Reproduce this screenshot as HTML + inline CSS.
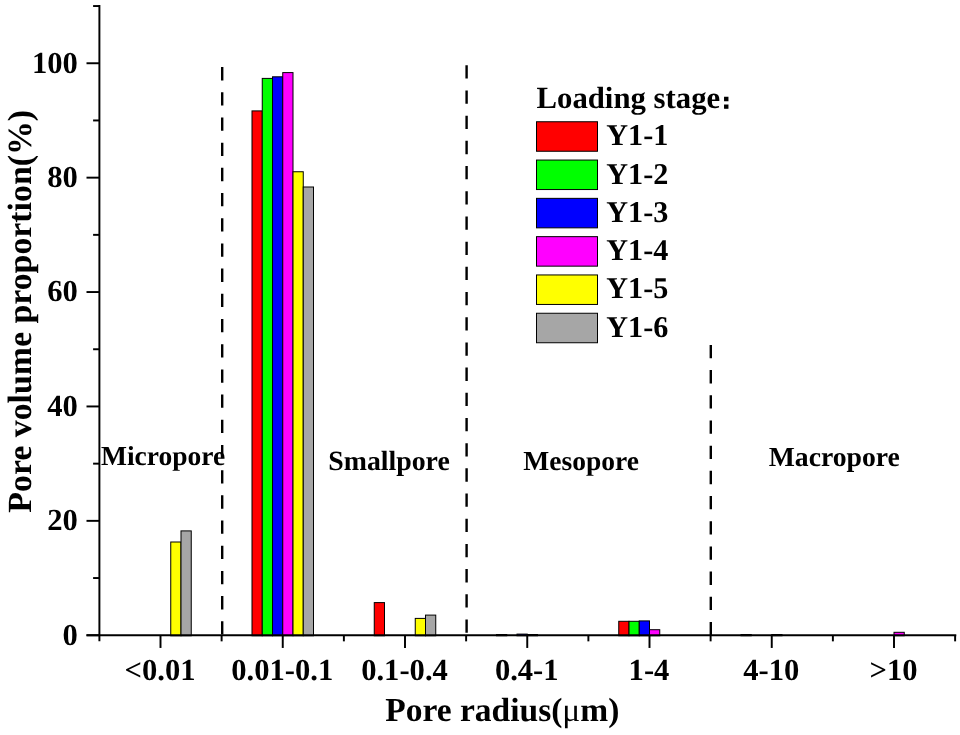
<!DOCTYPE html>
<html lang="en"><head><meta charset="utf-8"><title>Pore volume proportion</title>
<style>html,body{margin:0;padding:0;background:#fff;}svg{display:block;}text{font-family:"Liberation Serif","Noto Serif CJK SC",serif;font-weight:bold;fill:#000;}.t{font-size:30.6px;}.lg{font-size:30.2px;}.lgt{font-size:30.75px;}.ax{font-size:33.5px;}.rg{font-size:27.8px;}</style></head><body>
<svg width="960" height="735" viewBox="0 0 960 735" text-rendering="geometricPrecision">
<rect width="960" height="735" fill="#fff"/>
<line x1="222.2" y1="67.1" x2="222.2" y2="635.25" stroke="#000" stroke-width="2.4" stroke-dasharray="13.3 11.89"/>
<line x1="466.6" y1="65.3" x2="466.6" y2="635.25" stroke="#000" stroke-width="2.4" stroke-dasharray="13.3 11.89"/>
<line x1="710.8" y1="344.9" x2="710.8" y2="635.25" stroke="#000" stroke-width="2.4" stroke-dasharray="13.3 11.89"/>
<rect x="170.75" y="542.00" width="10.25" height="93.75" fill="#ffff00" stroke="#000" stroke-width="1"/>
<rect x="181.00" y="530.90" width="10.25" height="104.85" fill="#a6a6a6" stroke="#000" stroke-width="1"/>
<rect x="252.00" y="110.90" width="10.25" height="524.85" fill="#ff0000" stroke="#000" stroke-width="1"/>
<rect x="262.25" y="78.40" width="10.25" height="557.35" fill="#00ff00" stroke="#000" stroke-width="1"/>
<rect x="272.50" y="76.80" width="10.25" height="558.95" fill="#0000ff" stroke="#000" stroke-width="1"/>
<rect x="282.75" y="72.60" width="10.25" height="563.15" fill="#ff00ff" stroke="#000" stroke-width="1"/>
<rect x="293.00" y="171.75" width="10.25" height="464.00" fill="#ffff00" stroke="#000" stroke-width="1"/>
<rect x="303.25" y="187.00" width="10.25" height="448.75" fill="#a6a6a6" stroke="#000" stroke-width="1"/>
<rect x="374.25" y="602.60" width="10.25" height="33.15" fill="#ff0000" stroke="#000" stroke-width="1"/>
<rect x="415.25" y="618.40" width="10.25" height="17.35" fill="#ffff00" stroke="#000" stroke-width="1"/>
<rect x="425.50" y="615.10" width="10.25" height="20.65" fill="#a6a6a6" stroke="#000" stroke-width="1"/>
<rect x="496.50" y="634.50" width="10.25" height="1.25" fill="#ff0000" stroke="#000" stroke-width="1"/>
<rect x="517.00" y="634.10" width="10.25" height="1.65" fill="#0000ff" stroke="#000" stroke-width="1"/>
<rect x="527.25" y="634.50" width="10.25" height="1.25" fill="#ff00ff" stroke="#000" stroke-width="1"/>
<rect x="618.75" y="621.30" width="10.25" height="14.45" fill="#ff0000" stroke="#000" stroke-width="1"/>
<rect x="629.00" y="621.30" width="10.25" height="14.45" fill="#00ff00" stroke="#000" stroke-width="1"/>
<rect x="639.25" y="620.90" width="10.25" height="14.85" fill="#0000ff" stroke="#000" stroke-width="1"/>
<rect x="649.50" y="629.70" width="10.25" height="6.05" fill="#ff00ff" stroke="#000" stroke-width="1"/>
<rect x="741.00" y="634.50" width="10.25" height="1.25" fill="#ff0000" stroke="#000" stroke-width="1"/>
<rect x="771.75" y="634.50" width="10.25" height="1.25" fill="#ff00ff" stroke="#000" stroke-width="1"/>
<rect x="894.00" y="632.30" width="10.25" height="3.45" fill="#ff00ff" stroke="#000" stroke-width="1"/>
<g stroke="#000" stroke-width="1.95" fill="none">
<line x1="99.4" y1="4.90" x2="99.4" y2="641.35"/>
<line x1="86.5" y1="635.25" x2="956.27" y2="635.25"/>
<line x1="86.5" y1="635.25" x2="99.4" y2="635.25"/>
<line x1="93.10000000000001" y1="578.05" x2="99.4" y2="578.05"/>
<line x1="86.5" y1="520.85" x2="99.4" y2="520.85"/>
<line x1="93.10000000000001" y1="463.65" x2="99.4" y2="463.65"/>
<line x1="86.5" y1="406.45" x2="99.4" y2="406.45"/>
<line x1="93.10000000000001" y1="349.25" x2="99.4" y2="349.25"/>
<line x1="86.5" y1="292.05" x2="99.4" y2="292.05"/>
<line x1="93.10000000000001" y1="234.85" x2="99.4" y2="234.85"/>
<line x1="86.5" y1="177.65" x2="99.4" y2="177.65"/>
<line x1="93.10000000000001" y1="120.45" x2="99.4" y2="120.45"/>
<line x1="86.5" y1="63.25" x2="99.4" y2="63.25"/>
<line x1="93.10000000000001" y1="6.05" x2="99.4" y2="6.05"/>
<line x1="160.50" y1="635.25" x2="160.50" y2="647.95"/>
<line x1="282.75" y1="635.25" x2="282.75" y2="647.95"/>
<line x1="405.00" y1="635.25" x2="405.00" y2="647.95"/>
<line x1="527.25" y1="635.25" x2="527.25" y2="647.95"/>
<line x1="649.50" y1="635.25" x2="649.50" y2="647.95"/>
<line x1="771.75" y1="635.25" x2="771.75" y2="647.95"/>
<line x1="894.00" y1="635.25" x2="894.00" y2="647.95"/>
<line x1="221.62" y1="635.25" x2="221.62" y2="641.35"/>
<line x1="343.88" y1="635.25" x2="343.88" y2="641.35"/>
<line x1="466.12" y1="635.25" x2="466.12" y2="641.35"/>
<line x1="588.38" y1="635.25" x2="588.38" y2="641.35"/>
<line x1="710.62" y1="635.25" x2="710.62" y2="641.35"/>
<line x1="832.88" y1="635.25" x2="832.88" y2="641.35"/>
<line x1="955.12" y1="635.25" x2="955.12" y2="641.35"/>
</g>
<text class="t" x="77.9" y="644.55" text-anchor="end">0</text>
<text class="t" x="77.9" y="530.15" text-anchor="end">20</text>
<text class="t" x="77.9" y="415.75" text-anchor="end">40</text>
<text class="t" x="77.9" y="301.35" text-anchor="end">60</text>
<text class="t" x="77.9" y="186.95" text-anchor="end">80</text>
<text class="t" x="77.9" y="72.55" text-anchor="end">100</text>
<text class="t" x="160.00" y="679.9" text-anchor="middle">&lt;0.01</text>
<text class="t" x="282.25" y="679.9" text-anchor="middle">0.01-0.1</text>
<text class="t" x="404.50" y="679.9" text-anchor="middle">0.1-0.4</text>
<text class="t" x="526.75" y="679.9" text-anchor="middle">0.4-1</text>
<text class="t" x="649.00" y="679.9" text-anchor="middle">1-4</text>
<text class="t" x="771.25" y="679.9" text-anchor="middle">4-10</text>
<text class="t" x="893.50" y="679.9" text-anchor="middle">&gt;10</text>
<text class="ax" x="502.3" y="720.9" text-anchor="middle">Pore radius(<tspan font-weight="normal">μ</tspan>m)</text>
<text class="ax" style="font-size:33.85px" transform="translate(31.4,311.3) rotate(-90)" text-anchor="middle">Pore volume proportion(%)</text>
<text class="rg" style="font-size:27.5px" x="101.0" y="465">Micropore</text>
<text class="rg" x="328.3" y="469.6">Smallpore</text>
<text class="rg" style="font-size:27.5px" x="523.3" y="469.5">Mesopore</text>
<text class="rg" style="font-size:27.7px" x="768.7" y="466.3">Macropore</text>
<text class="lgt" x="536.5" y="107.6">Loading stage<tspan x="715.6" y="108.6" stroke="#000" stroke-width="1.1" style="font-family:IPAGothic,'Noto Sans CJK SC',sans-serif;font-size:21.5px">：</tspan></text>
<rect x="536.5" y="121.75" width="61" height="29.5" fill="#ff0000" stroke="#000" stroke-width="1"/>
<text class="lg" x="606.3" y="145.20">Y1-1</text>
<rect x="536.5" y="160.05" width="61" height="29.5" fill="#00ff00" stroke="#000" stroke-width="1"/>
<text class="lg" x="606.3" y="183.50">Y1-2</text>
<rect x="536.5" y="198.35" width="61" height="29.5" fill="#0000ff" stroke="#000" stroke-width="1"/>
<text class="lg" x="606.3" y="221.80">Y1-3</text>
<rect x="536.5" y="236.65" width="61" height="29.5" fill="#ff00ff" stroke="#000" stroke-width="1"/>
<text class="lg" x="606.3" y="260.10">Y1-4</text>
<rect x="536.5" y="274.95" width="61" height="29.5" fill="#ffff00" stroke="#000" stroke-width="1"/>
<text class="lg" x="606.3" y="298.40">Y1-5</text>
<rect x="536.5" y="313.25" width="61" height="29.5" fill="#a6a6a6" stroke="#000" stroke-width="1"/>
<text class="lg" x="606.3" y="336.70">Y1-6</text>
</svg></body></html>
